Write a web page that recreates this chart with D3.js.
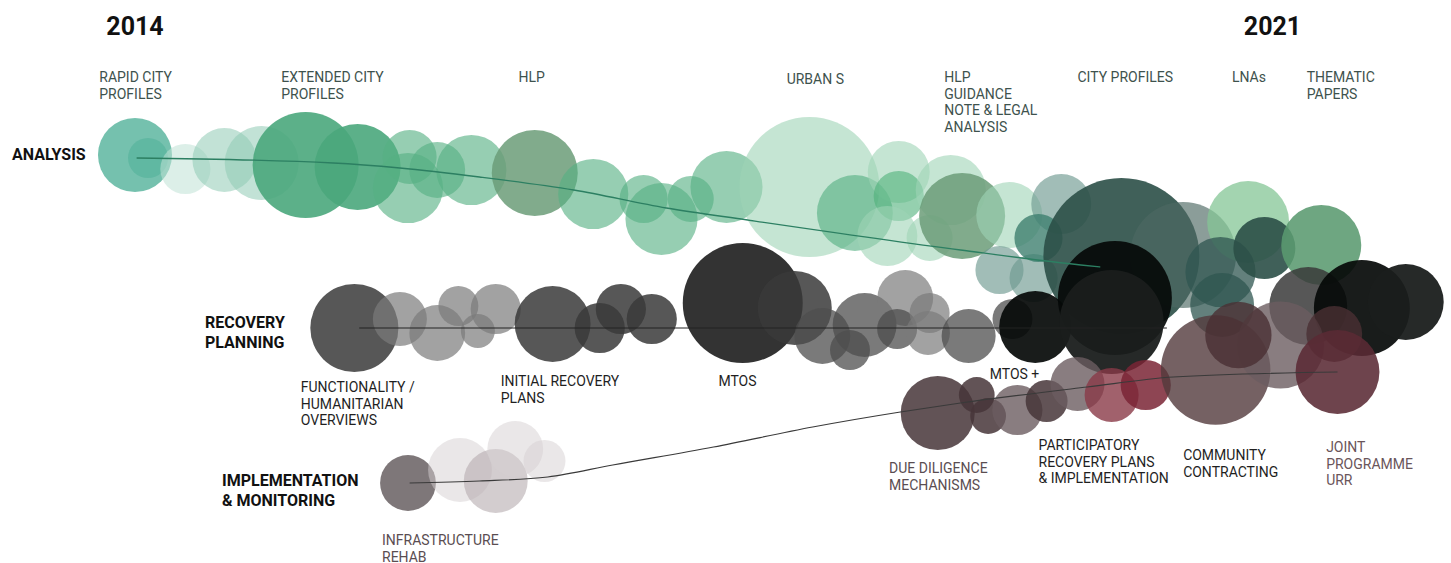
<!DOCTYPE html>
<html>
<head>
<meta charset="utf-8">
<style>
body { margin: 0; background: #fff; }
svg { display: block; font-family: Roboto, "Noto Sans", sans-serif; }
.year { font-size: 25px; font-weight: 700; fill: #111; }
.lane { font-size: 16px; font-weight: 700; fill: #111; }
.note { font-size: 14px; }
</style>
<script src="https://cdn.jsdelivr.net/npm/d3@7"></script>
</head>
<body>
<svg width="1451" height="563"></svg>
<script>

var years = [2014, 2021];
var lanes = [["ANALYSIS"], ["RECOVERY", "PLANNING"], ["IMPLEMENTATION", "& MONITORING"]];

// bubbles: t = time (year), off = drift away from the lane, v = size, tone = family
var analysis = [
  {t: 2014.00, off: -0.02, v: 13.7, tone: "teal"},
  {t: 2014.08, off: 0.01, v: 4.0, tone: "teal"},
  {t: 2014.31, off: 0.12, v: 6.3, tone: "pale"},
  {t: 2014.55, off: 0.03, v: 10.2, tone: "mint"},
  {t: 2014.78, off: 0.06, v: 13.7, tone: "mint"},
  {t: 2015.05, off: 0.08, v: 28.1, tone: "jade"},
  {t: 2015.37, off: 0.10, v: 18.5, tone: "jade"},
  {t: 2015.69, off: 0.00, v: 7.3, tone: "sea"},
  {t: 2015.68, off: 0.31, v: 12.3, tone: "sea"},
  {t: 2015.86, off: 0.13, v: 7.8, tone: "sea"},
  {t: 2016.07, off: 0.13, v: 12.3, tone: "sea"},
  {t: 2016.46, off: 0.16, v: 18.5, tone: "sage"},
  {t: 2016.82, off: 0.37, v: 12.3, tone: "sea"},
  {t: 2017.13, off: 0.42, v: 5.8, tone: "sea"},
  {t: 2017.24, off: 0.62, v: 13.0, tone: "sea"},
  {t: 2017.42, off: 0.42, v: 5.3, tone: "sea"},
  {t: 2017.64, off: 0.30, v: 13.0, tone: "sea"},
  {t: 2018.15, off: 0.30, v: 49.0, tone: "celadon"},
  {t: 2018.43, off: 0.56, v: 14.4, tone: "sea"},
  {t: 2018.70, off: 0.15, v: 9.6, tone: "celadon"},
  {t: 2018.70, off: 0.39, v: 6.3, tone: "emerald"},
  {t: 2018.63, off: 0.79, v: 9.0, tone: "celadon"},
  {t: 2019.02, off: 0.33, v: 12.3, tone: "celadon"},
  {t: 2018.89, off: 0.81, v: 5.3, tone: "celadon"},
  {t: 2019.09, off: 0.59, v: 18.5, tone: "sage"},
  {t: 2019.38, off: 0.58, v: 10.9, tone: "celadon"},
  {t: 2019.32, off: 1.13, v: 5.8, tone: "slate"},
  {t: 2019.53, off: 1.21, v: 5.8, tone: "slate"},
  {t: 2019.70, off: 0.47, v: 9.0, tone: "slate"},
  {t: 2019.56, off: 0.81, v: 5.8, tone: "lagoon"},
  {t: 2020.07, off: 0.99, v: 60.8, tone: "pine"},
  {t: 2020.45, off: 0.98, v: 28.1, tone: "steel"},
  {t: 2020.85, off: 0.65, v: 16.8, tone: "leaf"},
  {t: 2020.68, off: 1.15, v: 12.3, tone: "spruce"},
  {t: 2020.69, off: 1.48, v: 10.2, tone: "spruce"},
  {t: 2020.95, off: 0.91, v: 9.6, tone: "pine"},
  {t: 2021.30, off: 0.88, v: 16.0, tone: "forest"}
];

var recovery = [
  {t: 2015.35, off: 0.00, v: 19.4, tone: "charcoal"},
  {t: 2015.63, off: -0.09, v: 7.3, tone: "silver"},
  {t: 2015.86, off: 0.05, v: 7.8, tone: "silver"},
  {t: 2015.99, off: -0.22, v: 4.0, tone: "silver"},
  {t: 2016.11, off: 0.03, v: 2.9, tone: "silver"},
  {t: 2016.22, off: -0.19, v: 6.3, tone: "silver"},
  {t: 2016.57, off: -0.04, v: 14.4, tone: "charcoal"},
  {t: 2016.86, off: 0.00, v: 6.3, tone: "charcoal"},
  {t: 2016.99, off: -0.19, v: 6.3, tone: "charcoal"},
  {t: 2017.18, off: -0.09, v: 6.3, tone: "charcoal"},
  {t: 2017.74, off: -0.25, v: 36.0, tone: "graphite"},
  {t: 2018.06, off: -0.20, v: 13.7, tone: "charcoal"},
  {t: 2018.23, off: 0.08, v: 7.8, tone: "gray"},
  {t: 2018.40, off: 0.22, v: 4.0, tone: "gray"},
  {t: 2018.49, off: -0.03, v: 10.2, tone: "gray"},
  {t: 2018.74, off: -0.30, v: 7.8, tone: "silver"},
  {t: 2018.69, off: 0.01, v: 4.0, tone: "gray"},
  {t: 2018.89, off: -0.15, v: 4.0, tone: "silver"},
  {t: 2018.88, off: 0.05, v: 4.8, tone: "silver"},
  {t: 2019.13, off: 0.08, v: 7.3, tone: "gray"},
  {t: 2019.40, off: -0.09, v: 4.0, tone: "gray"},
  {t: 2019.54, off: -0.01, v: 13.0, tone: "ink"},
  {t: 2020.03, off: -0.30, v: 32.5, tone: "ink"},
  {t: 2020.01, off: -0.06, v: 27.0, tone: "onyx"},
  {t: 2021.22, off: -0.22, v: 15.2, tone: "charcoal"},
  {t: 2021.55, off: -0.20, v: 23.0, tone: "ink"},
  {t: 2021.82, off: -0.26, v: 14.4, tone: "onyx"}
];

var implementation = [
  {t: 2015.68, off: 0.00, v: 7.8, tone: "mauve"},
  {t: 2016.00, off: -0.13, v: 10.2, tone: "mist"},
  {t: 2016.22, off: -0.02, v: 10.2, tone: "haze"},
  {t: 2016.34, off: -0.34, v: 7.8, tone: "mist"},
  {t: 2016.52, off: -0.22, v: 4.4, tone: "mist"},
  {t: 2018.94, off: -0.70, v: 13.7, tone: "plum"},
  {t: 2019.18, off: -0.88, v: 3.2, tone: "plum"},
  {t: 2019.25, off: -0.67, v: 3.2, tone: "plum"},
  {t: 2019.43, off: -0.73, v: 6.3, tone: "taupe"},
  {t: 2019.61, off: -0.82, v: 4.4, tone: "plum"},
  {t: 2019.80, off: -0.99, v: 7.3, tone: "taupe"},
  {t: 2020.01, off: -0.88, v: 7.3, tone: "rose"},
  {t: 2020.22, off: -0.98, v: 6.3, tone: "wine"},
  {t: 2020.65, off: -1.13, v: 30.0, tone: "cocoa"},
  {t: 2021.05, off: -1.38, v: 19.0, tone: "taupe"},
  {t: 2020.79, off: -1.48, v: 11.0, tone: "bramble"},
  {t: 2021.38, off: -1.49, v: 7.8, tone: "bramble"},
  {t: 2021.40, off: -1.11, v: 17.6, tone: "claret"}
];

// trend lines: [time, drift]
var analysisTrend = [[2014.01, 0.01], [2015.22, 0.06], [2015.63, 0.11], [2016.12, 0.20], [2016.70, 0.33],
  [2017.27, 0.51], [2017.77, 0.63], [2019.08, 0.93], [2019.82, 1.08], [2019.94, 1.10]];
var recoveryTrend = [[2015.38, 0.00], [2020.35, 0.00]];
var implementationTrend = [[2015.69, 0.00], [2016.12, -0.02], [2016.54, -0.06], [2016.94, -0.18], [2017.56, -0.36],
  [2018.17, -0.56], [2018.71, -0.71], [2019.08, -0.80], [2019.86, -0.96], [2020.39, -1.06], [2021.40, -1.11]];

var analysisNotes = [
  {t: 2013.78, off: -0.75, lines: ["RAPID CITY", "PROFILES"]},
  {t: 2014.90, off: -0.75, lines: ["EXTENDED CITY", "PROFILES"]},
  {t: 2016.36, off: -0.75, lines: ["HLP"]},
  {t: 2018.01, off: -0.73, lines: ["URBAN S"]},
  {t: 2018.98, off: -0.75, lines: ["HLP", "GUIDANCE", "NOTE & LEGAL", "ANALYSIS"]},
  {t: 2019.80, off: -0.75, lines: ["CITY PROFILES"]},
  {t: 2020.75, off: -0.75, lines: ["LNAs"]},
  {t: 2021.21, off: -0.75, lines: ["THEMATIC", "PAPERS"]}
];
var recoveryNotes = [
  {t: 2015.02, off: 0.64, lines: ["FUNCTIONALITY /", "HUMANITARIAN", "OVERVIEWS"]},
  {t: 2016.25, off: 0.58, lines: ["INITIAL RECOVERY", "PLANS"]},
  {t: 2017.59, off: 0.58, lines: ["MTOS"]},
  {t: 2019.26, off: 0.51, lines: ["MTOS +"]}
];
var implementationNotes = [
  {t: 2015.52, off: 0.62, lines: ["INFRASTRUCTURE", "REHAB"], ink: "mauve"},
  {t: 2018.64, off: -0.10, lines: ["DUE DILIGENCE", "MECHANISMS"], ink: "mauve"},
  {t: 2019.56, off: -0.33, lines: ["PARTICIPATORY", "RECOVERY PLANS", "& IMPLEMENTATION"], ink: "dark"},
  {t: 2020.45, off: -0.23, lines: ["COMMUNITY", "CONTRACTING"], ink: "dark"},
  {t: 2021.33, off: -0.31, lines: ["JOINT", "PROGRAMME", "URR"], ink: "rose"}
];

var palette = {
  teal: ["#5db6a0", 0.85], pale: ["#bfe2d5", 0.55], mint: ["#8fcbb5", 0.55], jade: ["#4aa77c", 0.9],
  sea: ["#55b083", 0.62], sage: ["#6b9c78", 0.85], celadon: ["#9ed4b6", 0.6], emerald: ["#4fb07a", 0.6],
  slate: ["#6e9990", 0.65], lagoon: ["#3f7f6f", 0.8], pine: ["#2b4f47", 0.9], steel: ["#4d6863", 0.65],
  spruce: ["#2f5650", 0.75], leaf: ["#84c596", 0.75], forest: ["#5a9a70", 0.88],
  charcoal: ["#3a3a3a", 0.85], graphite: ["#222222", 0.92], gray: ["#4d4d4d", 0.75], silver: ["#7a7a7a", 0.7],
  ink: ["#050908", 0.92], onyx: ["#1a1d1c", 0.95],
  mauve: ["#5e5558", 0.8], mist: ["#d6d0d2", 0.5], haze: ["#b5acaf", 0.6], plum: ["#473538", 0.85],
  taupe: ["#6c5d60", 0.8], rose: ["#8a3a47", 0.8], wine: ["#7a2535", 0.85], cocoa: ["#52393c", 0.8],
  bramble: ["#4a2f33", 0.8], claret: ["#5a2a34", 0.88]
};
var noteInk = {green: "#3e524d", dark: "#1f1f1f", mauve: "#5a4d51", rose: "#6a555a"};

var svg = d3.select("svg");

var x = d3.scaleLinear().domain([2014, 2022]).range([135, 1435]),
    laneY = d3.scaleLinear().domain([0, 1, 2]).range([157, 328, 483]),
    drift = d3.scaleLinear().domain([-1, 1]).range([-100, 100]),
    size = d3.scaleSqrt().domain([0, 100]).range([0, 100]);

var groups = [analysis, recovery, implementation];
groups.forEach(function(data, i) {
  svg.append("g")
    .selectAll("circle")
    .data(data)
    .join("circle")
    .attr("cx", function(d) { return x(d.t); })
    .attr("cy", function(d) { return laneY(i) + drift(d.off); })
    .attr("r", function(d) { return size(d.v); })
    .attr("fill", function(d) { return palette[d.tone][0]; })
    .attr("fill-opacity", function(d) { return palette[d.tone][1]; });
});

var trends = [
  {pts: analysisTrend, color: "#2c7f62", w: 1.3},
  {pts: recoveryTrend, color: "#222", w: 1},
  {pts: implementationTrend, color: "#3a3a3a", w: 1.2}
];
trends.forEach(function(tr, i) {
  var line = d3.line()
    .x(function(d) { return x(d[0]); })
    .y(function(d) { return laneY(i) + drift(d[1]); })
    .curve(d3.curveMonotoneX);
  svg.append("path")
    .attr("d", line(tr.pts))
    .attr("fill", "none")
    .attr("stroke", tr.color)
    .attr("stroke-width", tr.w);
});

// year labels
svg.selectAll(".year")
  .data(years)
  .join("text")
  .attr("class", "year")
  .attr("x", function(d) { return x(d); })
  .attr("y", 35)
  .attr("text-anchor", "middle")
  .text(function(d) { return d; });

// lane labels
var laneX = [12, 205, 222], laneDy = [3, 0, 3];
lanes.forEach(function(lines, i) {
  var t = svg.append("text").attr("class", "lane");
  lines.forEach(function(s, k) {
    t.append("tspan")
      .attr("x", laneX[i])
      .attr("y", laneY(i) + laneDy[i] + k * 19.5)
      .text(s);
  });
});

// annotations
var notes = [analysisNotes, recoveryNotes, implementationNotes],
    defaultInk = ["green", "dark", "mauve"];
notes.forEach(function(list, i) {
  list.forEach(function(n) {
    var t = svg.append("text")
      .attr("class", "note")
      .attr("fill", noteInk[n.ink || defaultInk[i]]);
    n.lines.forEach(function(s, k) {
      t.append("tspan")
        .attr("x", x(n.t))
        .attr("y", laneY(i) + drift(n.off) + k * 16.5)
        .text(s);
    });
  });
});

</script>
</body>
</html>
